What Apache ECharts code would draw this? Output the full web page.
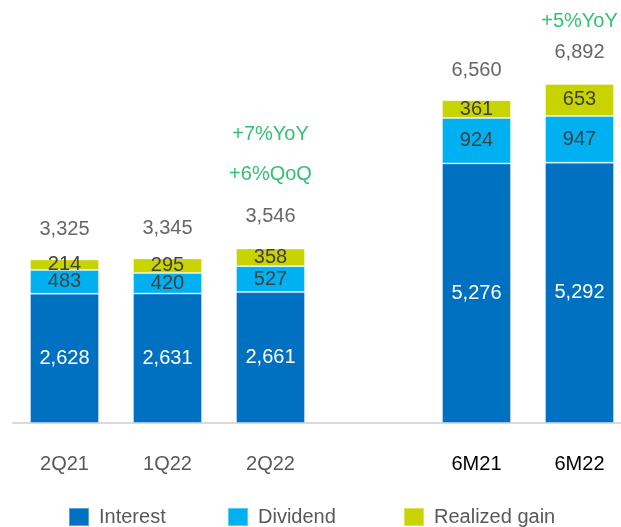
<!DOCTYPE html>
<html>
<head>
<meta charset="utf-8">
<script src="https://cdn.jsdelivr.net/npm/echarts@6/dist/echarts.min.js"></script>
<style>
  html, body { margin: 0; padding: 0; background: #fff; }
  #chart { width: 621px; height: 527px; }
</style>
</head>
<body>
<div id="chart"></div>
<script>
// categories (4th slot is the empty gap between quarters and half-years)
const categories = ['2Q21', '1Q22', '2Q22', '', '6M21', '6M22'];
const interest = [2628, 2631, 2661, '-', 5276, 5292];
const dividend = [483, 420, 527, '-', 924, 947];
const realizedGain = [214, 295, 358, '-', 361, 653];
const totals = [3325, 3345, 3546, '-', 6560, 6892];
const growthNotes = ['', '', '+7%YoY\n+6%QoQ', '', '', '+5%YoY'];

const FONT = '"Liberation Sans", Arial, sans-serif';
const DARK = '#404040';
const GREEN = '#00b050';

const chart = echarts.init(document.getElementById('chart'));

const fmt = v => Number(v).toLocaleString('en-US');

// total labels, with the green growth notes stacked above some of them
const totalData = totals.map((v, i) => {
  if (v === '-') return '-';
  const note = growthNotes[i];
  if (!note) return v;
  const big = note.indexOf('\n') >= 0;
  const lines = note.split('\n').map(s => '{g|' + s + '}');
  return {
    value: v,
    label: {
      distance: big ? 10 : 15,
      formatter: lines.join('\n') + '\n{t|' + fmt(v) + '}',
      rich: {
        g: { color: GREEN, fontSize: 20, fontFamily: FONT, lineHeight: big ? 40 : 30 },
        t: { color: DARK, fontSize: 20, fontFamily: FONT, lineHeight: big ? 44 : 32 }
      }
    }
  };
});

const segLabel = color => ({
  show: true,
  position: 'inside',
  color: color,
  fontSize: 20,
  fontFamily: FONT,
  formatter: p => fmt(p.value)
});

const barBase = {
  type: 'bar',
  stack: 'total',
  barWidth: 69,
  emphasis: { disabled: true }
};

chart.setOption({
  animation: false,
  grid: { left: 13, width: 618, top: 78.6, bottom: 104, outerBoundsMode: 'none' },
  legend: [
    { data: ['Interest'], left: 68 },
    { data: ['Dividend'], left: 227 },
    { data: ['Realized gain'], left: 403 }
  ].map(l => Object.assign(l, {
    top: 507,
    padding: 0,
    itemWidth: 20,
    itemHeight: 18,
    icon: 'rect',
    textStyle: { color: '#595959', fontSize: 20, fontFamily: FONT, padding: [0, 0, 0, 5] }
  })),
  xAxis: {
    type: 'category',
    data: categories,
    axisLine: { lineStyle: { color: '#d9d9d9', width: 2 } },
    axisTick: { show: false },
    axisLabel: {
      margin: 31,
      fontSize: 20,
      fontFamily: FONT,
      color: (v, i) => (i >= 4 ? '#000000' : '#595959')
    }
  },
  yAxis: {
    type: 'value',
    min: 0,
    max: 7000,
    show: false,
    splitLine: { show: false }
  },
  series: [
    Object.assign({}, barBase, {
      name: 'Interest',
      data: interest,
      itemStyle: { color: '#0070c0', borderColor: 'rgba(255,255,255,0.35)', borderWidth: 1 },
      label: segLabel('#ffffff')
    }),
    Object.assign({}, barBase, {
      name: 'Dividend',
      data: dividend,
      itemStyle: { color: '#00b0f0', borderColor: 'rgba(255,255,255,0.35)', borderWidth: 1 },
      label: segLabel(DARK)
    }),
    Object.assign({}, barBase, {
      name: 'Realized gain',
      data: realizedGain,
      itemStyle: { color: '#c9d300', borderColor: 'rgba(255,255,255,0.35)', borderWidth: 1 },
      label: segLabel(DARK)
    }),
    {
      name: 'Total',
      type: 'scatter',
      data: totalData,
      symbolSize: 1,
      itemStyle: { color: 'rgba(0,0,0,0)' },
      silent: true,
      label: {
        show: true,
        position: 'top',
        distance: 19,
        color: DARK,
        fontSize: 20,
        fontFamily: FONT,
        formatter: p => fmt(p.value)
      }
    }
  ]
});
</script>
</body>
</html>
